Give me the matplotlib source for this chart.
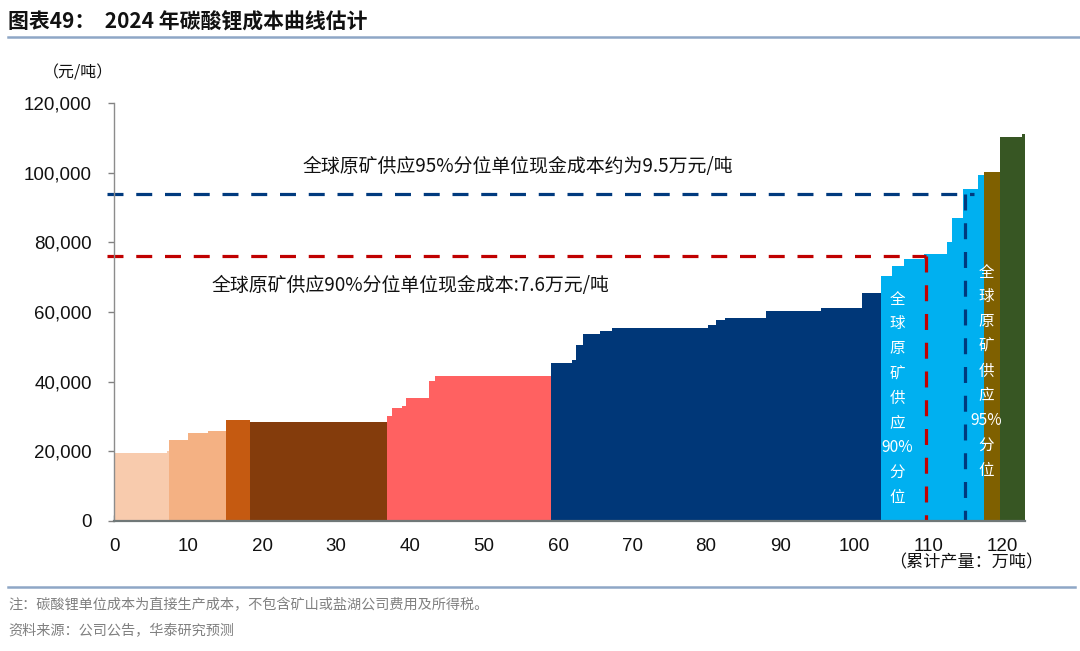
import matplotlib
matplotlib.use("Agg")
import matplotlib.pyplot as plt
from matplotlib.ticker import FuncFormatter

plt.rcParams['font.family'] = ['Noto Sans CJK SC', 'DejaVu Sans']

# cumulative output breakpoints (10kt) and unit cost (yuan/t) for each cost group
edges_1 = [0, 7.1, 7.4]
cost_1 = [19500, 20100]
edges_2 = [7.4, 10.0, 12.7, 15.1]
cost_2 = [23300, 25200, 25900]
edges_3 = [15.1, 18.4]
cost_3 = [28900]
edges_4 = [18.4, 36.9]
cost_4 = [28500]
edges_5 = [36.9, 37.6, 38.9, 39.4, 42.5, 43.4, 59.0]
cost_5 = [30200, 32300, 33100, 35300, 40200, 41600]
edges_6 = [59.0, 61.9, 62.4, 63.4, 65.7, 67.3, 80.3, 81.4, 82.5, 88.1, 95.5, 101.1, 103.6]
cost_6 = [45300, 46300, 50400, 53800, 54400, 55400, 56300, 57600, 58200, 60400, 61200, 65400]
edges_7 = [103.6, 105.1, 106.8, 109.4, 112.6, 113.2, 114.7, 116.7, 117.5]
cost_7 = [70300, 73200, 75300, 76700, 80000, 87000, 95300, 99300]
edges_8 = [117.5, 119.7]
cost_8 = [100100]
edges_9 = [119.7, 122.7, 123.1]
cost_9 = [110200, 111000]

group_colors = ['#F8CBAD', '#F4B183', '#C55A11', '#843C0C', '#FF6161',
                '#003778', '#00B0F0', '#7F6000', '#375623']

p90_output = 109.7
p90_cost = 76000
p95_output = 115.0
p95_cost = 94000

xticks = list(range(0, 130, 10))
yticks = list(range(0, 140000, 20000))

fig = plt.figure(figsize=(10.8, 6.51), dpi=100)
ax = fig.add_axes([0.1056, 0.1997, 0.8435, 0.6421])

groups = [(edges_1, cost_1), (edges_2, cost_2), (edges_3, cost_3), (edges_4, cost_4),
          (edges_5, cost_5), (edges_6, cost_6), (edges_7, cost_7), (edges_8, cost_8),
          (edges_9, cost_9)]
for (edges, cost), color in zip(groups, group_colors):
    # step area: each cost holds until the next breakpoint
    ax.fill_between(edges, cost + [cost[-1]], 0, step='post', color=color,
                    linewidth=0, zorder=2)

# percentile cost lines
ax.plot([-1.0, p95_output + 1.2], [p95_cost, p95_cost], color='#003A7E', lw=2.3,
        dashes=(5, 4), clip_on=False, zorder=4)
ax.plot([p95_output, p95_output], [p95_cost, 0], color='#003A7E', lw=2.3,
        dashes=(5, 4), zorder=4)
ax.plot([-1.0, p90_output], [p90_cost, p90_cost], color='#C00000', lw=2.3,
        dashes=(5, 4), clip_on=False, zorder=4)
ax.plot([p90_output, p90_output], [p90_cost, 0], color='#C00000', lw=2.3,
        dashes=(5, 4), zorder=4)

ax.text(54.6, 101700, '全球原矿供应95%分位单位现金成本约为9.5万元/吨',
        ha='center', va='center', fontsize=13.6, color='#111111')
ax.text(40.0, 67600, '全球原矿供应90%分位单位现金成本:7.6万元/吨',
        ha='center', va='center', fontsize=13.6, color='#111111')

ax.text(105.8, 35200, '\n'.join(['全', '球', '原', '矿', '供', '应', '90%', '分', '位']),
        ha='center', va='center', fontsize=11.2, color='white', linespacing=1.6, zorder=5)
ax.text(117.9, 43000, '\n'.join(['全', '球', '原', '矿', '供', '应', '95%', '分', '位']),
        ha='center', va='center', fontsize=11.2, color='white', linespacing=1.6, zorder=5)

ax.set_xlim(0, 123.1)
ax.set_ylim(0, 120000)
ax.set_xticks(xticks)
ax.set_yticks(yticks)
ax.yaxis.set_major_formatter(FuncFormatter(lambda v, p: f'{int(v):,}'))
for lab in ax.get_xticklabels() + ax.get_yticklabels():
    lab.set_family(['Liberation Sans', 'DejaVu Sans'])
    lab.set_fontsize(13.5)
    lab.set_color('#111111')
ax.tick_params(axis='x', direction='in', length=4, width=1, color='#808080', pad=12)
ax.tick_params(axis='y', direction='out', length=4, width=1, color='#808080', pad=12)

for s in ['top', 'right']:
    ax.spines[s].set_visible(False)
ax.spines['left'].set_color('#8C8C8C')
ax.spines['left'].set_linewidth(1.0)
ax.spines['bottom'].set_color('#707878')
ax.spines['bottom'].set_linewidth(1.6)
ax.spines['left'].set_zorder(6)
ax.spines['bottom'].set_zorder(6)

fig.text(78 / 1080, 1 - 73 / 651, '（元/吨）', ha='center', va='center',
         fontsize=11.5, color='#111111')
fig.text(966 / 1080, 1 - 562 / 651, '（累计产量：万吨）', ha='center', va='center',
         fontsize=12.3, color='#111111')

# title and frame lines
fig.text(8 / 1080, 1 - 22 / 651, '图表49：  2024 年碳酸锂成本曲线估计', ha='left', va='center',
         fontsize=15, fontweight='bold', color='#111111')
fig.add_artist(plt.Line2D([8 / 1080, 1.0], [1 - 37 / 651] * 2, color='#8EA7C6', lw=1.8))
fig.add_artist(plt.Line2D([8 / 1080, 1075 / 1080], [1 - 587 / 651] * 2, color='#8EA7C6', lw=1.8))

fig.text(8 / 1080, 1 - 605 / 651, '注：碳酸锂单位成本为直接生产成本，不包含矿山或盐湖公司费用及所得税。',
         ha='left', va='center', fontsize=10.2, color='#808080')
fig.text(8 / 1080, 1 - 631 / 651, '资料来源：公司公告，华泰研究预测',
         ha='left', va='center', fontsize=10.2, color='#808080')

fig.savefig('out.png', dpi=100)
